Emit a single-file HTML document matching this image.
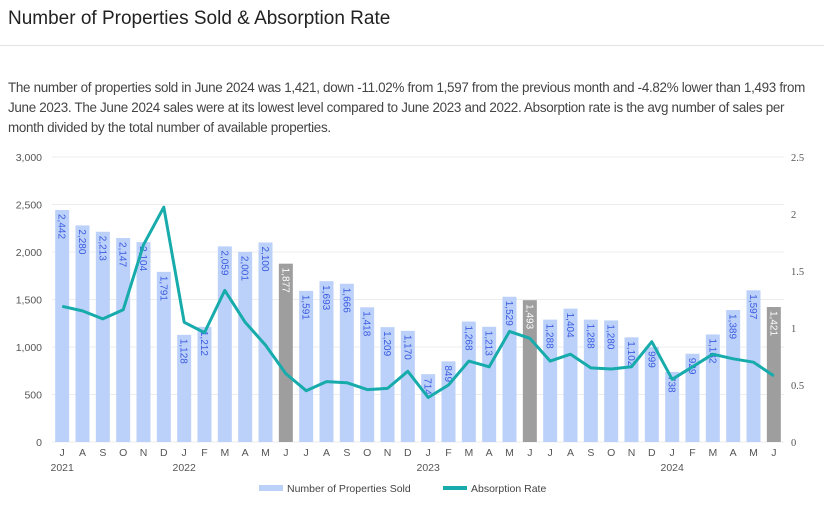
<!DOCTYPE html>
<html><head><meta charset="utf-8">
<style>
body{margin:0;width:824px;height:518px;background:#fff;font-family:"Liberation Sans",sans-serif;overflow:hidden}
#title{position:absolute;left:8px;top:8px;font-size:19px;color:#222}
#rule{position:absolute;left:0;top:45px;width:824px;height:1px;background:#e3e3e3}
#desc{position:absolute;left:8px;top:78px;width:812px;font-size:13.4px;letter-spacing:-0.3px;line-height:20px;color:#444}
svg{position:absolute;left:0;top:0}
</style></head><body>
<div id="title">Number of Properties Sold &amp; Absorption Rate</div>
<div id="rule"></div>
<div id="desc">The number of properties sold in June 2024 was 1,421, down -11.02% from 1,597 from the previous month and -4.82% lower than 1,493 from June 2023. The June 2024 sales were at its lowest level compared to June 2023 and 2022. Absorption rate is the avg number of sales per month divided by the total number of available properties.</div>
<svg id="chart" width="824" height="518"></svg>
<script>
const months=["J","A","S","O","N","D","J","F","M","A","M","J","J","A","S","O","N","D","J","F","M","A","M","J","J","A","S","O","N","D","J","F","M","A","M","J"];
const years={0:"2021",6:"2022",18:"2023",30:"2024"};
const sold=[2442,2280,2213,2147,2104,1791,1128,1212,2059,2001,2100,1877,1591,1693,1666,1418,1209,1170,714,849,1268,1213,1529,1493,1288,1404,1288,1280,1102,999,738,929,1132,1389,1597,1421];
const absorption=[1.19,1.15,1.08,1.16,1.73,2.06,1.05,0.96,1.33,1.05,0.85,0.6,0.45,0.53,0.52,0.46,0.47,0.62,0.39,0.5,0.71,0.66,0.97,0.91,0.71,0.77,0.65,0.64,0.66,0.88,0.55,0.66,0.77,0.73,0.7,0.58];
const highlight=[11,23,35];
const leftTicks=[0,500,1000,1500,2000,2500,3000];
const rightTicks=[0,0.5,1,1.5,2,2.5];
const NS="http://www.w3.org/2000/svg";
const svg=document.getElementById('chart');
const x0=52,x1=784,yTop=157,yBot=442;
const step=(x1-x0)/months.length;
const xc=i=>x0+step*(i+0.5);
const yL=v=>yBot-(v/3000)*(yBot-yTop);
const yR=v=>yBot-(v/2.5)*(yBot-yTop);
function mk(t,a,txt){const e=document.createElementNS(NS,t);for(const k in a)e.setAttribute(k,a[k]);if(txt!==undefined)e.textContent=txt;svg.appendChild(e);return e;}
leftTicks.forEach(v=>{
 const g=mk('line',{x1:x0,x2:x1,y1:yL(v),y2:yL(v),stroke:'#ececec','stroke-width':1});
 
 
 const t=mk('text',{x:42,y:yL(v)+4,'text-anchor':'end','font-size':10.5,fill:'#555'},v.toLocaleString('en-US'));
 
 
});
rightTicks.forEach(v=>{
 const t=mk('text',{x:791,y:yR(v)+4,'font-size':10.5,fill:'#555','font-family':'Liberation Serif, serif'},String(v));
 
 
});
sold.forEach((v,i)=>{
 const hi=highlight.includes(i);
 const r=mk('rect',{x:xc(i)-7,y:yL(v),width:14,height:yBot-yL(v),fill:hi?'#9e9e9e':'#bcd1fa'});
 
 
 const tx=xc(i)-3.5,ty=yL(v)+4;
 const l=mk('text',{x:tx,y:ty,transform:`rotate(90 ${tx} ${ty})`,'font-size':10,fill:hi?'#fff':'#3a5be0'},v.toLocaleString('en-US'));
 
 
 const m=mk('text',{x:xc(i),y:456,'text-anchor':'middle','font-size':10.5,fill:'#555'},months[i]);
 
 
 if(years[i]){const yv=mk('text',{x:xc(i),y:471,'text-anchor':'middle','font-size':10.5,fill:'#555'},years[i]);
 
 }
});
const pts=absorption.map((v,i)=>xc(i).toFixed(1)+','+yR(v).toFixed(1)).join(' ');
const pl=mk('polyline',{points:pts,fill:'none',stroke:'#17abab','stroke-width':3,'stroke-linejoin':'round'});


const s1=mk('rect',{x:259,y:485,width:24,height:6,fill:'#bcd1fa'});


const t1=mk('text',{x:287,y:492,'font-size':10.5,fill:'#444'},'Number of Properties Sold');


const s2=mk('rect',{x:443,y:486,width:24,height:4,fill:'#17abab'});


const t2=mk('text',{x:471,y:492,'font-size':10.5,fill:'#444'},'Absorption Rate');


</script>
</body></html>
